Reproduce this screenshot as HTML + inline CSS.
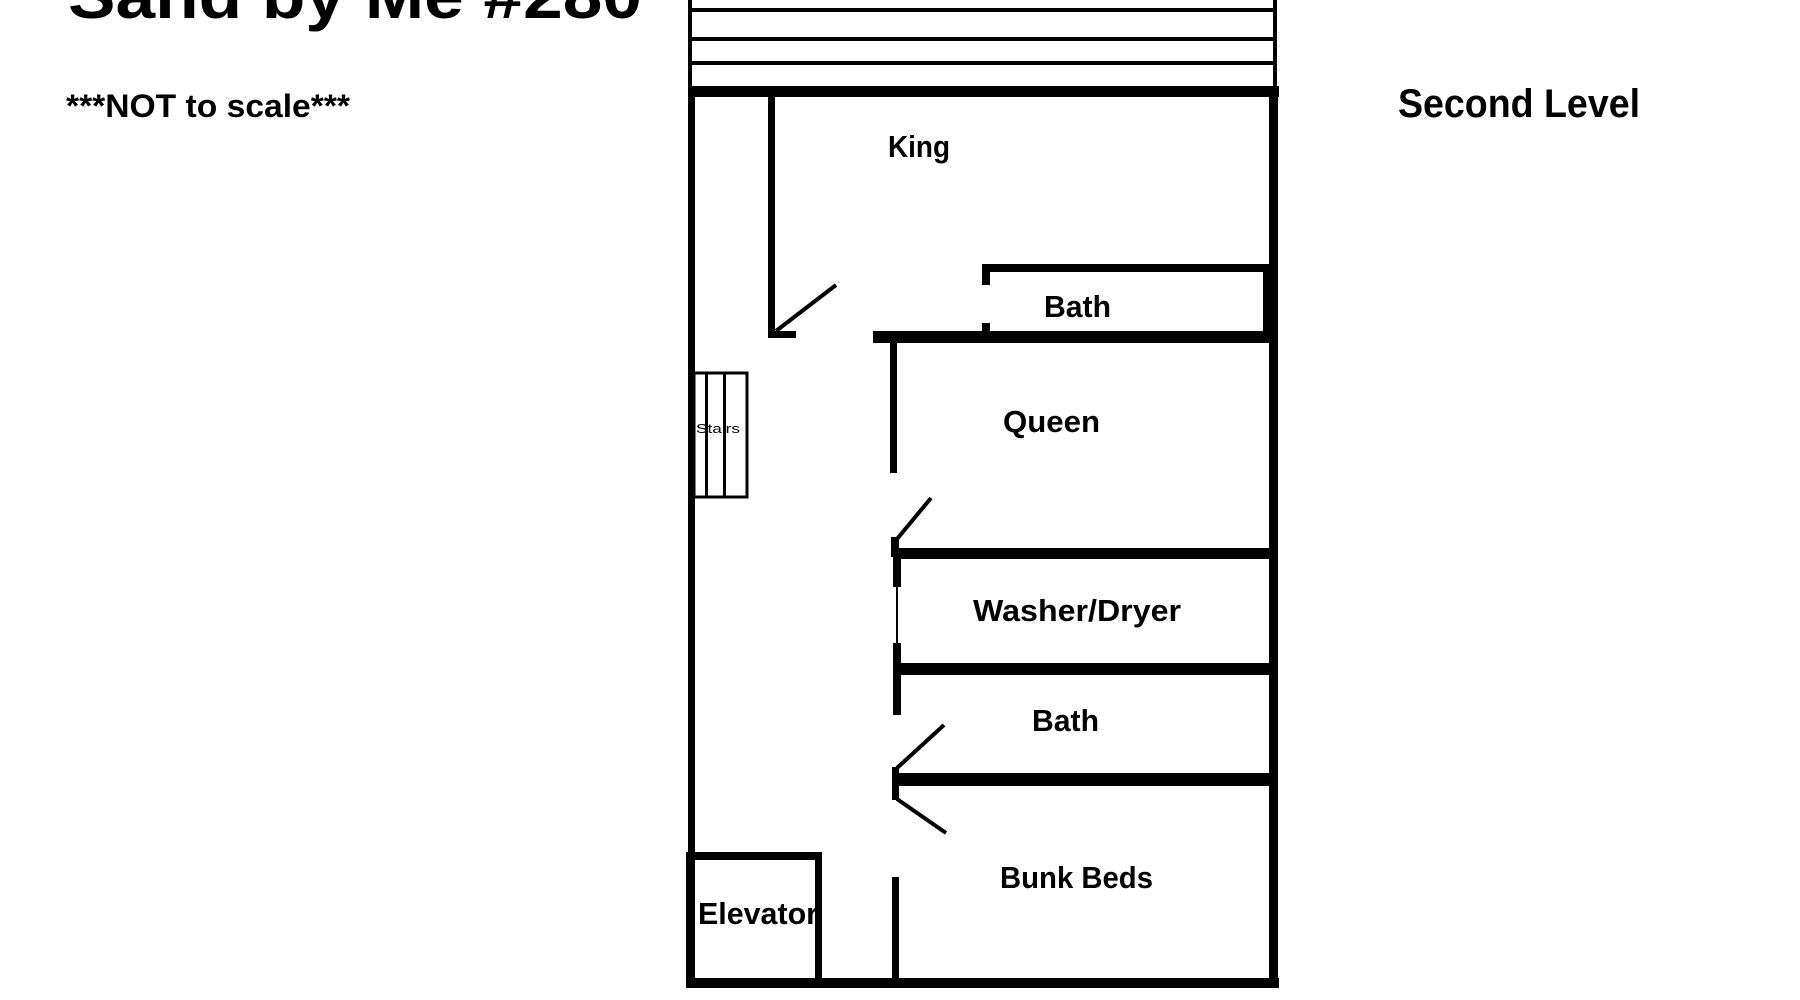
<!DOCTYPE html>
<html><head><meta charset="utf-8"><style>
html,body{margin:0;padding:0;background:#fff;width:1800px;height:1000px;overflow:hidden}
svg{display:block}
text{font-family:"Liberation Sans",sans-serif;font-weight:bold;fill:#000}
</style></head><body>
<svg width="1800" height="1000" viewBox="0 0 1800 1000" xmlns="http://www.w3.org/2000/svg">
<!-- title -->
<text x="68" y="18" font-size="64" textLength="574" lengthAdjust="spacingAndGlyphs">Sand by Me #280</text>
<text x="66" y="117" font-size="32" textLength="284" lengthAdjust="spacingAndGlyphs">***NOT to scale***</text>
<text x="1398" y="117" font-size="40" textLength="242" lengthAdjust="spacingAndGlyphs">Second Level</text>

<g transform="translate(-4,0)">
<!-- deck -->
<rect x="692" y="0" width="4" height="90" fill="#000"/>
<rect x="1277" y="0" width="4" height="90" fill="#000"/>
<rect x="692" y="8" width="589" height="4" fill="#000"/>
<rect x="692" y="37" width="589" height="4" fill="#000"/>
<rect x="692" y="61" width="589" height="4" fill="#000"/>

<!-- outer walls -->
<rect x="692" y="86" width="591" height="11" fill="#000"/>
<rect x="692" y="86" width="7" height="900" fill="#000"/>
<rect x="1273" y="86" width="9" height="901" fill="#000"/>
<rect x="690" y="978" width="593" height="10" fill="#000"/>

<!-- king wall + door -->
<rect x="772" y="97" width="7" height="241" fill="#000"/>
<rect x="772" y="331" width="28" height="7" fill="#000"/>
<line x1="780" y1="331" x2="840" y2="285" stroke="#000" stroke-width="4"/>

<!-- bath 1 -->
<rect x="877" y="331" width="400" height="12" fill="#000"/>
<rect x="986" y="264" width="290" height="8" fill="#000"/>
<rect x="986" y="264" width="8" height="21" fill="#000"/>
<rect x="986" y="323" width="8" height="10" fill="#000"/>
<rect x="1267" y="264" width="15" height="79" fill="#000"/>

<!-- queen -->
<rect x="894" y="338" width="7" height="135" fill="#000"/>
<rect x="895" y="537" width="8" height="20" fill="#000"/>
<line x1="901" y1="539" x2="935" y2="498" stroke="#000" stroke-width="4"/>

<!-- washer -->
<rect x="897" y="548" width="380" height="11" fill="#000"/>
<rect x="897" y="555" width="8" height="32" fill="#000"/>
<rect x="900" y="587" width="2" height="56" fill="#000"/>
<rect x="897" y="643" width="8" height="72" fill="#000"/>
<rect x="901" y="663" width="376" height="12" fill="#000"/>

<!-- bath 2 -->
<rect x="897" y="773" width="380" height="13" fill="#000"/>
<rect x="896" y="767" width="7" height="33" fill="#000"/>
<line x1="901" y1="768" x2="948" y2="725" stroke="#000" stroke-width="4"/>
<line x1="901" y1="799" x2="950" y2="833" stroke="#000" stroke-width="4"/>

<!-- bunk -->
<rect x="896" y="877" width="7" height="105" fill="#000"/>

<!-- elevator -->
<rect x="690" y="852" width="136" height="8" fill="#000"/>
<rect x="690" y="852" width="8" height="130" fill="#000"/>
<rect x="819" y="852" width="7" height="130" fill="#000"/>

<!-- stairs -->
<rect x="698" y="373" width="53" height="124" fill="none" stroke="#000" stroke-width="3"/>
<rect x="709" y="373" width="3" height="124" fill="#000"/>
<rect x="727" y="373" width="3" height="124" fill="#000"/>
<text x="700" y="433" font-size="13" style="font-weight:normal" textLength="44" lengthAdjust="spacingAndGlyphs">Stairs</text>

<!-- labels -->
<text x="892" y="157" font-size="31" textLength="62" lengthAdjust="spacingAndGlyphs">King</text>
<text x="1048" y="317" font-size="31" textLength="67" lengthAdjust="spacingAndGlyphs">Bath</text>
<text x="1007" y="432" font-size="31" textLength="97" lengthAdjust="spacingAndGlyphs">Queen</text>
<text x="977" y="621" font-size="31" textLength="208" lengthAdjust="spacingAndGlyphs">Washer/Dryer</text>
<text x="1036" y="731" font-size="31" textLength="67" lengthAdjust="spacingAndGlyphs">Bath</text>
<text x="1004" y="888" font-size="31" textLength="153" lengthAdjust="spacingAndGlyphs">Bunk Beds</text>
<text x="702" y="924" font-size="31" textLength="120" lengthAdjust="spacingAndGlyphs">Elevator</text>
</g>
</svg>
</body></html>
